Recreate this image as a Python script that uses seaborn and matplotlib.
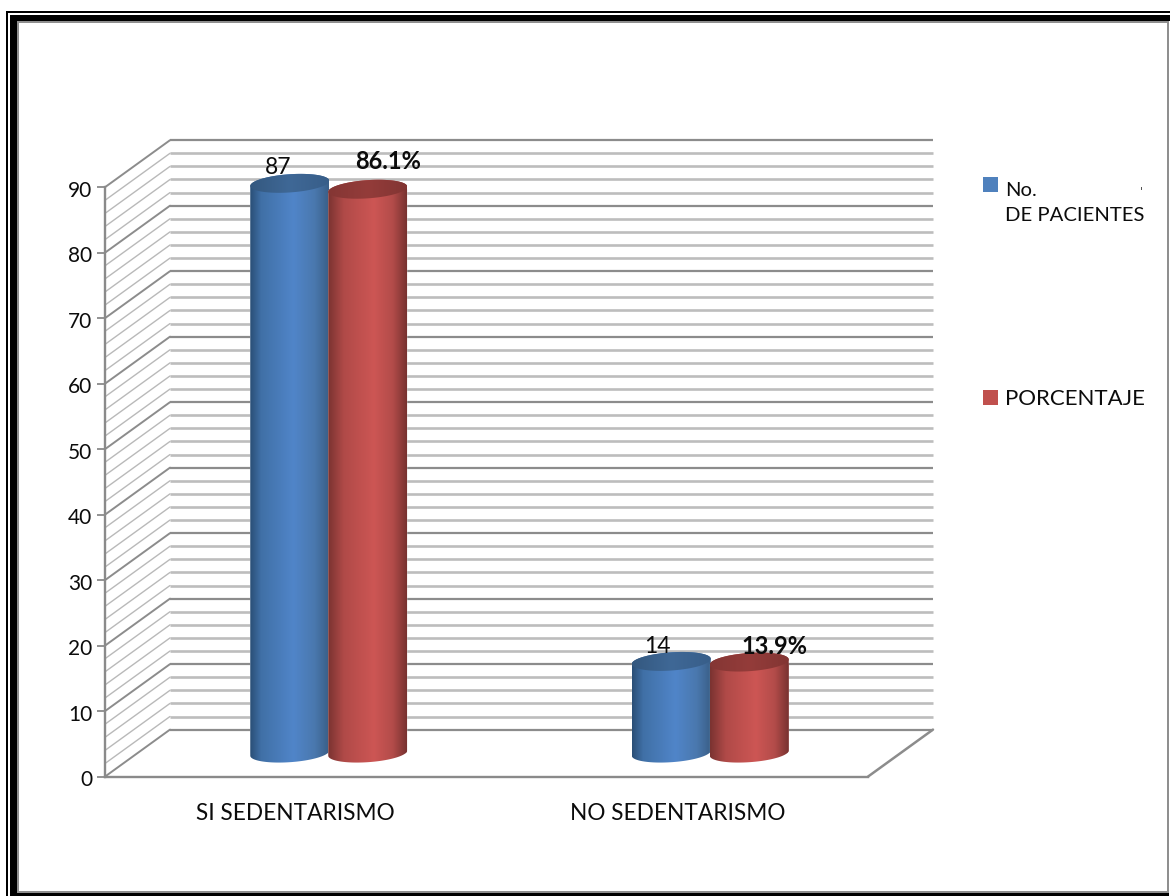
import numpy as np
import pandas as pd
import matplotlib
matplotlib.use("Agg")
import matplotlib.pyplot as plt
import seaborn as sns
from matplotlib.patches import Rectangle, Patch, PathPatch
from matplotlib.path import Path
from matplotlib.colors import LinearSegmentedColormap
from matplotlib.transforms import ScaledTranslation

# ---- data ----
categories = ["SI SEDENTARISMO", "NO SEDENTARISMO"]
series_names = ["No. DE PACIENTES", "PORCENTAJE"]
pacientes = [87, 14]
porcentaje = [86.1, 13.9]
y_ticks = [0, 10, 20, 30, 40, 50, 60, 70, 80, 90]
label_count = ["87", "14"]
label_pct = ["86.1%", "13.9%"]

# ---- layout ----
W, H = 1170, 896
sns.set_theme(style="white")
plt.rcParams["font.family"] = ["Lato", "DejaVu Sans"]
TXT = "#0c0c0c"

fig = plt.figure(figsize=(W / 100, H / 100), dpi=100, facecolor="white")

def frame_rect(x0, y0, x1, y1, color):
    fig.add_artist(Rectangle((x0 / W, 1 - y1 / H), (x1 - x0) / W, (y1 - y0) / H,
                             transform=fig.transFigure, facecolor=color,
                             edgecolor="none", zorder=-10))

frame_rect(6, 11, W, H, "black")
frame_rect(8, 13, W, H, "white")
frame_rect(10, 15, W, H, "black")
frame_rect(17, 21, 1169, 893, "#8f8f8f")
frame_rect(19, 23, 1167, 891, "white")
frame_rect(1169, 21, W, H, "white")
frame_rect(1141, 187, 1142, 190, "#555555")

X0, X1, Y0, Y90 = 105, 868, 776.6, 187.2
ax = fig.add_axes([X0 / W, 1 - Y0 / H, (X1 - X0) / W, (Y0 - Y90) / H])
ax.patch.set_alpha(0)

df = pd.DataFrame({
    "cat": categories * 2,
    "serie": [series_names[0]] * 2 + [series_names[1]] * 2,
    "val": pacientes + porcentaje,
})
sns.barplot(data=df, x="cat", y="val", hue="serie", order=categories,
            hue_order=series_names, width=0.414, gap=0, dodge=True,
            palette=["#4f81bd", "#c0504d"], legend=False, ax=ax, zorder=3)
ax.set_xlim(-0.5, 1.5)
ax.set_ylim(0, 90)
ax.set_autoscale_on(False)
ax.set_xlabel("")
ax.set_ylabel("")

px_x = 2 / (X1 - X0)
px_y = 90 / (Y0 - Y90)
DX = 65 * px_x
DY = 47 * px_y

# ---- walls and floor ----
GMAJ, GMIN, GSIDE = "#8c8c8c", "#bdbdbd", "#b9b9b9"
for v in range(0, 91, 2):
    major = v % 10 == 0
    ax.plot([-0.5 + DX, 1.5 + DX], [v + DY, v + DY], color=GMAJ if major else GMIN,
            lw=1.6 if major else 1.9, clip_on=False, zorder=1, solid_capstyle="butt")
    ax.plot([-0.5, -0.5 + DX], [v, v + DY], color=GMAJ if major else GSIDE,
            lw=1.4 if major else 1.0, clip_on=False, zorder=1)
ax.plot([1.5, 1.5 + DX], [0, DY], color=GMAJ, lw=1.8, clip_on=False, zorder=1)

for s in ["top", "right"]:
    ax.spines[s].set_visible(False)
for s in ["left", "bottom"]:
    ax.spines[s].set_color("#8a8a8a")
    ax.spines[s].set_linewidth(1.7)
    ax.spines[s].set_zorder(2)
ax.set_yticks(y_ticks)
ax.tick_params(axis="y", left=True, length=5.5, width=1.3, color="#8a8a8a", pad=3.5,
               labelsize=15, labelcolor=TXT)
ax.tick_params(axis="x", bottom=False, pad=13, labelsize=16.3, labelcolor=TXT)
shift_down = ScaledTranslation(0, -1.5 / 100, fig.dpi_scale_trans)
for lab in ax.get_yticklabels():
    lab.set_transform(lab.get_transform() + shift_down)

# ---- cylinders: the seaborn bars, moved to mid depth and shaded ----
cm_blue = LinearSegmentedColormap.from_list("b", [(0, "#2a4e76"), (0.14, "#4070a6"),
                                                  (0.55, "#5085c9"), (0.82, "#4a78ae"),
                                                  (1, "#3a5f88")])
cm_red = LinearSegmentedColormap.from_list("r", [(0, "#7a3331"), (0.2, "#b04a48"),
                                                 (0.58, "#cd5654"), (0.82, "#b34c4a"),
                                                 (1, "#783230")])
cm_blue_top = LinearSegmentedColormap.from_list("bt", ["#34587f", "#3f6896", "#385e89"])
cm_red_top = LinearSegmentedColormap.from_list("rt", ["#843634", "#943c3a", "#823533"])
grad = np.linspace(0, 1, 256).reshape(1, -1)

RY = 9.1 * px_y
TILT = 2.6 * px_y
t = np.linspace(0, np.pi, 60)

bars = list(ax.patches)
n = len(categories)
for i, bar in enumerate(bars):
    is_red = i >= n
    x = bar.get_x() + DX / 2 + (0 if is_red else 1.0 * px_x)
    w = bar.get_width()
    h = bar.get_height()
    cx, rx = x + w / 2, w / 2
    base, top = DY / 2, DY / 2 + h
    bar.set_x(x)
    bar.set_y(base)
    z = 4 if is_red else 3
    # upper half of the top rim, then lower half of the bottom rim
    up_x = cx + rx * np.cos(t)
    up_y = top + RY * np.sin(t) + TILT * np.cos(t)
    tt = t + np.pi
    lo_x = cx + rx * np.cos(tt)
    lo_y = base + RY * np.sin(tt) + TILT * np.cos(tt)
    body = np.column_stack([np.r_[up_x, lo_x], np.r_[up_y, lo_y]])
    body_patch = PathPatch(Path(np.vstack([body, body[0]]), closed=True),
                           transform=ax.transData, facecolor="none", edgecolor="none")
    ax.add_patch(body_patch)
    body_patch.set_clip_on(False)
    bar.set_zorder(z)
    bar.set_clip_path(body_patch)
    im = ax.imshow(grad, cmap=cm_red if is_red else cm_blue, aspect="auto",
                   extent=(x, x + w, base - 2 * RY, top + 2 * RY), zorder=z,
                   interpolation="bilinear", origin="lower")
    im.set_clip_box(fig.bbox)
    im.set_clip_path(body_patch)
    # top rim
    tt2 = np.linspace(0, 2 * np.pi, 120)
    rim = np.column_stack([cx + rx * np.cos(tt2),
                           top + RY * np.sin(tt2) + TILT * np.cos(tt2)])
    rim_patch = PathPatch(Path(rim, closed=True), transform=ax.transData,
                          facecolor="none", edgecolor="none")
    ax.add_patch(rim_patch)
    rim_patch.set_clip_on(False)
    im2 = ax.imshow(grad, cmap=cm_red_top if is_red else cm_blue_top, aspect="auto",
                    extent=(x, x + w, top - 2 * RY, top + 2 * RY), zorder=z + 0.1,
                    interpolation="bilinear", origin="lower")
    im2.set_clip_box(fig.bbox)
    im2.set_clip_path(rim_patch)

ax.set_xlim(-0.5, 1.5)
ax.set_ylim(0, 90)

# ---- value labels ----
count_offsets = [(-31, 39), (-33, 38)]
pct_offsets = [(59, 51), (64, 39)]
for i in range(n):
    c = ax.get_xticks()[i]
    ax.annotate(label_count[i], xy=(c, pacientes[i]), xytext=count_offsets[i],
                textcoords="offset pixels", ha="left", va="center", fontsize=16.5,
                color=TXT, annotation_clip=False, zorder=8)
    ax.annotate(label_pct[i], xy=(c, porcentaje[i]), xytext=pct_offsets[i],
                textcoords="offset pixels", ha="left", va="center", fontsize=17,
                fontweight="bold", color=TXT, annotation_clip=False, zorder=8)

# ---- legend ----
handles = [Patch(facecolor="#4f81bd", edgecolor="none"),
           Patch(facecolor="#c0504d", edgecolor="none")]
leg = ax.legend(handles, ["No.\nDE PACIENTES", "PORCENTAJE"], loc="upper left",
                bbox_to_anchor=(983 / W, 1 - 182 / H), bbox_transform=fig.transFigure,
                frameon=False, fontsize=15, handlelength=0.72, handleheight=0.72,
                handletextpad=0.33, labelspacing=7.9, borderpad=0, borderaxespad=0,
                labelcolor=TXT)
leg.get_texts()[0].set_fontsize(14.6)
leg.get_texts()[0].set_linespacing(1.6)
leg.get_texts()[1].set_fontsize(16)
hb = leg.legend_handles[0]
hb.set_y(hb.get_y() + 13.3)

fig.savefig("out.png", dpi=100, facecolor="white")
